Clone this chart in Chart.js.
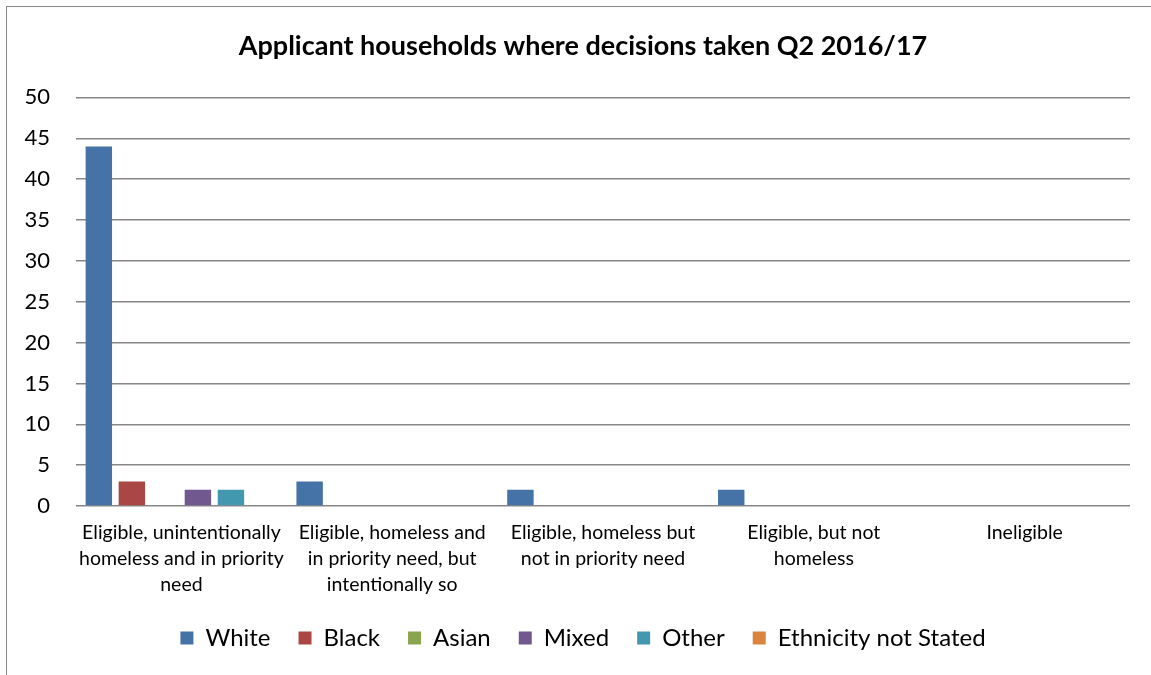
<!DOCTYPE html>
<html>
<head>
<meta charset="utf-8">
<script src="https://cdn.jsdelivr.net/npm/chart.js@4.4.1/dist/chart.umd.min.js"></script>
<style>
  html, body { margin: 0; padding: 0; background: #fff; overflow: hidden; }
  #wrap { position: relative; width: 1151px; height: 675px; }
  #frame { position: absolute; left: 6px; top: 6px; width: 1200px; height: 700px; border: 1.5px solid #8a8a8a; box-sizing: border-box; pointer-events: none; }
</style>
</head>
<body>
<div id="wrap">
  <canvas id="myChart" width="1151" height="675"></canvas>
  <div id="frame"></div>
</div>
<script>
var categories = [
  ['Eligible, unintentionally', 'homeless and in priority', 'need'],
  ['Eligible, homeless and', 'in priority need, but', 'intentionally so'],
  ['Eligible, homeless but', 'not in priority need'],
  ['Eligible, but not', 'homeless'],
  ['Ineligible']
];
var white = [44, 3, 2, 2, 0];
var black = [3, 0, 0, 0, 0];
var asian = [0, 0, 0, 0, 0];
var mixed = [2, 0, 0, 0, 0];
var other = [2, 0, 0, 0, 0];
var notStated = [0, 0, 0, 0, 0];

var fontName = 'Lato';

// Get the canvas element
var ctx = document.getElementById('myChart').getContext('2d');

var myChart = new Chart(ctx, {
    type: 'bar',
    data: {
        labels: categories,
        datasets: [
            { label: 'White', data: white, backgroundColor: '#4572A7' },
            { label: 'Black', data: black, backgroundColor: '#AA4643' },
            { label: 'Asian', data: asian, backgroundColor: '#89A54E' },
            { label: 'Mixed', data: mixed, backgroundColor: '#71588F' },
            { label: 'Other', data: other, backgroundColor: '#4198AF' },
            { label: 'Ethnicity not Stated', data: notStated, backgroundColor: '#DB843D' }
        ]
    },
    options: {
        responsive: false,
        animation: false,
        datasets: {
            bar: { categoryPercentage: 0.94, barPercentage: 0.8, borderWidth: 0 }
        },
        layout: { padding: { left: 36, right: 21, top: 0, bottom: 15 } },
        plugins: {
            title: {
                display: true,
                text: 'Applicant households where decisions taken Q2 2016/17',
                color: '#000',
                font: { family: fontName, size: 27, weight: 'bold' },
                padding: { top: 30, bottom: 35 }
            },
            legend: {
                position: 'bottom',
                labels: {
                    color: '#000',
                    font: { family: fontName, size: 24 },
                    boxWidth: 13,
                    boxHeight: 13,
                    padding: 28
                }
            },
            tooltip: { enabled: false }
        },
        scales: {
            x: {
                afterFit: function(scale) { scale.height = 92; },
                grid: { display: false },
                border: { display: false },
                ticks: {
                    color: '#000',
                    font: { family: fontName, size: 19.5, lineHeight: 1.33 },
                    maxRotation: 0,
                    autoSkip: false,
                    padding: 6
                }
            },
            y: {
                min: 0,
                max: 50,
                afterFit: function(scale) {
                    scale.width = 40;
                    // labels sit partly in the left padding, so don't clip them
                    scale._computeLabelArea = function() { return undefined; };
                },
                grid: { color: '#878787', lineWidth: 1.5, drawTicks: false },
                border: { display: false },
                ticks: {
                    stepSize: 5,
                    color: '#000',
                    font: { family: fontName, size: 22 },
                    padding: 26
                }
            }
        }
    }
});
</script>
</body>
</html>
